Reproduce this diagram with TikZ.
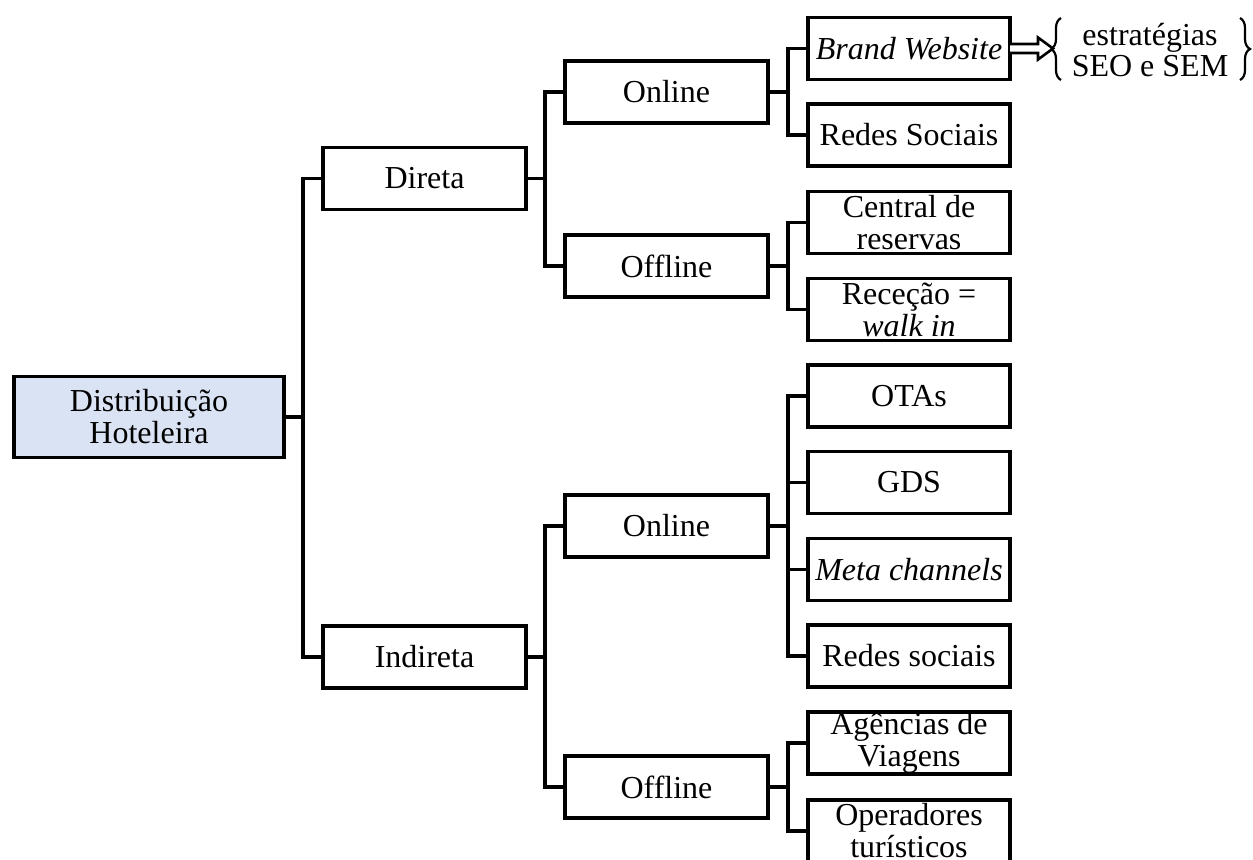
\documentclass[tikz,border=0pt]{standalone}
\usepackage{fontspec}
\setmainfont{Liberation Serif}
\usetikzlibrary{calc,decorations.pathreplacing}
\definecolor{rootblue}{RGB}{218,227,243}
\begin{document}
\begin{tikzpicture}[x=0.5pt,y=-0.5pt,
  box/.style={draw, line width=1.6pt, minimum width=101.5pt, minimum height=31pt,
    inner sep=0pt, outer sep=0pt, align=center,
    font=\fontsize{16}{16}\selectfont},
  leafbox/.style={box, minimum width=101pt},
  rootbox/.style={box, fill=rootblue, minimum width=135pt, minimum height=40.5pt},
  branch/.style={line width=1.6pt},
  notebrace/.style={line width=1.1pt, decorate, decoration={brace, amplitude=5pt}}]
\useasboundingbox (0,0) rectangle (1253,859);

% root and first level
\node[rootbox] (root) at (149,417) {Distribuição\\Hoteleira};
\node[box] (direta)   at (424.5,178.5) {Direta};
\node[box] (indireta) at (424.5,657)   {Indireta};

% second level
\node[box] (don)  at (666.5,92)  {Online};
\node[box] (doff) at (666.5,266) {Offline};
\node[box] (ion)  at (666.5,526) {Online};
\node[box] (ioff) at (666.5,787) {Offline};

% leaves
\node[leafbox] (bw)   at (909,48.5)  {\textit{Brand Website}};
\node[leafbox] (rs)   at (909,135)   {Redes Sociais};
\node[leafbox] (cr)   at (909,222.5) {Central de\\reservas};
\node[leafbox] (rc)   at (909,309.5) {Receção =\\\textit{walk in}};
\node[leafbox] (otas) at (909,396)   {OTAs};
\node[leafbox] (gds)  at (909,482.5) {GDS};
\node[leafbox] (meta) at (909,569.5) {\textit{Meta channels}};
\node[leafbox] (rso)  at (909,656)   {Redes sociais};
\node[leafbox] (ag)   at (909,743)   {Agências de\\Viagens};
\node[leafbox] (op)   at (909,831)   {Operadores\\turísticos};

% bracketed note beside the brand website
\node[align=center, inner sep=0pt, font=\fontsize{16}{15.5}\selectfont]
  (seo) at (1150,50) {estratégias\\SEO e SEM};
\coordinate (lb) at (1053,48.5);
\draw[notebrace] (1061,80) -- (1061,18);
\draw[notebrace] (1240,18) -- (1240,80);

% elbow connectors
\foreach \c in {direta,indireta}
  \draw[branch] (root.east) -- ++(19,0) |- (\c.west);
\foreach \c in {don,doff}
  \draw[branch] (direta.east) -- ++(19,0) |- (\c.west);
\foreach \c in {ion,ioff}
  \draw[branch] (indireta.east) -- ++(19,0) |- (\c.west);
\foreach \c in {bw,rs}
  \draw[branch] (don.east) -- ++(20,0) |- (\c.west);
\foreach \c in {cr,rc}
  \draw[branch] (doff.east) -- ++(20,0) |- (\c.west);
\foreach \c in {otas,gds,meta,rso}
  \draw[branch] (ion.east) -- ++(20,0) |- (\c.west);
\foreach \c in {ag,op}
  \draw[branch] (ioff.east) -- ++(20,0) |- (\c.west);

% hollow block arrow from the brand website to the note
\draw[line width=1.3pt, fill=white, line join=miter]
  ($(bw.east)+(0,-4.5)$) -- ($(lb)+(-15,-4.5)$) -- ($(lb)+(-15,-11)$)
  -- (lb) -- ($(lb)+(-15,11)$) -- ($(lb)+(-15,4.5)$) -- ($(bw.east)+(0,4.5)$);
\end{tikzpicture}
\end{document}
